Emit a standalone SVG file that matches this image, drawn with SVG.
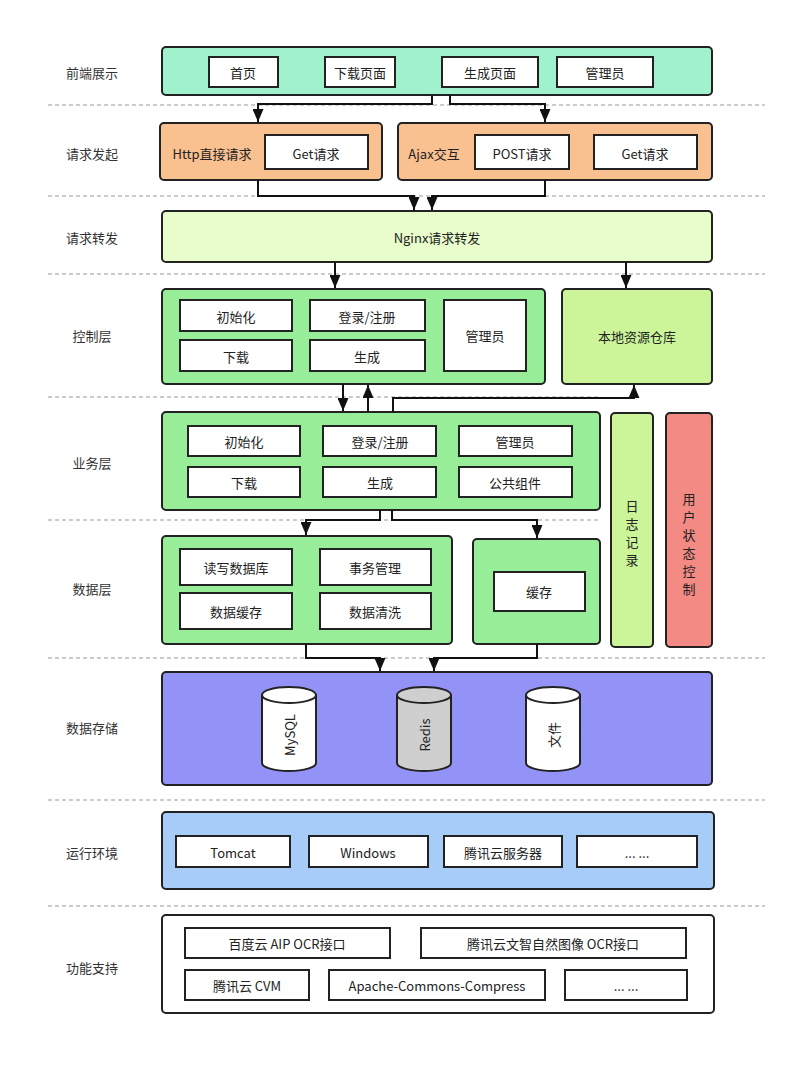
<svg xmlns="http://www.w3.org/2000/svg" width="800" height="1076" viewBox="0 0 800 1076">
<defs>
<marker id="ar" markerWidth="13" markerHeight="11" refX="10" refY="5" orient="auto" markerUnits="userSpaceOnUse" viewBox="0 0 10 10" preserveAspectRatio="none"><path d="M0,0 L10,5 L0,10 Z" fill="#111"/></marker>
<style>
text{font-family:"Noto Sans CJK SC","Liberation Sans",sans-serif;font-size:13px;fill:#222;text-anchor:middle;dominant-baseline:central}
.o{stroke:#222;stroke-width:2}
.b{fill:#fff;stroke:#222;stroke-width:2}
.d{stroke:#999;stroke-width:1.2;stroke-dasharray:4 3}
.c{fill:none;stroke:#111;stroke-width:2}
.lb{font-size:13px;fill:#333}
</style>
</defs>
<rect width="800" height="1076" fill="#fff"/>
<g id="dividers">
<line class="d" x1="48" y1="105" x2="765" y2="105"/><line class="d" x1="48" y1="196" x2="765" y2="196"/>
<line class="d" x1="48" y1="274" x2="765" y2="274"/><line class="d" x1="48" y1="397" x2="600" y2="397"/>
<line class="d" x1="48" y1="520" x2="600" y2="520"/><line class="d" x1="48" y1="658" x2="765" y2="658"/>
<line class="d" x1="48" y1="800" x2="765" y2="800"/><line class="d" x1="48" y1="906" x2="765" y2="906"/>
</g>
<g id="labels">
<text class="lb" x="92" y="72">前端展示</text><text class="lb" x="92" y="153">请求发起</text>
<text class="lb" x="92" y="237">请求转发</text><text class="lb" x="92" y="335">控制层</text>
<text class="lb" x="92" y="462">业务层</text><text class="lb" x="92" y="588">数据层</text>
<text class="lb" x="92" y="727">数据存储</text><text class="lb" x="92" y="852">运行环境</text>
<text class="lb" x="92" y="967">功能支持</text>
</g>
<g id="frontend">
<rect class="o" x="162" y="47" width="550" height="48" rx="4" fill="#a0f2cc"/>
<rect class="b" x="209" y="57" width="69" height="30"/><text x="243" y="72">首页</text>
<rect class="b" x="325" y="57" width="70" height="30"/><text x="360" y="72">下载页面</text>
<rect class="b" x="442" y="57" width="96" height="30"/><text x="490" y="72">生成页面</text>
<rect class="b" x="557" y="57" width="96" height="30"/><text x="605" y="72">管理员</text>
</g>
<g id="http">
<rect class="o" x="160" y="123" width="222" height="57" rx="4" fill="#f9c090"/>
<text x="212" y="153">Http直接请求</text>
<rect class="b" x="265" y="135" width="103" height="34"/><text x="316" y="153">Get请求</text>
</g>
<g id="ajax">
<rect class="o" x="398" y="123" width="314" height="57" rx="4" fill="#f9c090"/>
<text x="434" y="153">Ajax交互</text>
<rect class="b" x="475" y="135" width="94" height="34"/><text x="522" y="153">POST请求</text>
<rect class="b" x="594" y="135" width="103" height="34"/><text x="645" y="153">Get请求</text>
</g>
<g id="nginx">
<rect class="o" x="162" y="211" width="550" height="51" rx="4" fill="#e8fccc"/>
<text x="437" y="237">Nginx请求转发</text>
</g>
<g id="control">
<rect class="o" x="162" y="289" width="383" height="95" rx="4" fill="#98ee98"/>
<rect class="b" x="180" y="300" width="112" height="31"/><text x="236" y="316">初始化</text>
<rect class="b" x="310" y="300" width="115" height="31"/><text x="367" y="316">登录/注册</text>
<rect class="b" x="180" y="340" width="112" height="31"/><text x="236" y="356">下载</text>
<rect class="b" x="310" y="340" width="115" height="31"/><text x="367" y="356">生成</text>
<rect class="b" x="444" y="300" width="82" height="71"/><text x="485" y="335">管理员</text>
</g>
<g id="local">
<rect class="o" x="562" y="289" width="150" height="95" rx="4" fill="#ccf59a"/>
<text x="637" y="336">本地资源仓库</text>
</g>
<g id="business">
<rect class="o" x="162" y="412" width="438" height="98" rx="4" fill="#98ee98"/>
<rect class="b" x="188" y="426" width="112" height="30"/><text x="244" y="441">初始化</text>
<rect class="b" x="323" y="426" width="113" height="30"/><text x="380" y="441">登录/注册</text>
<rect class="b" x="459" y="426" width="113" height="30"/><text x="515" y="441">管理员</text>
<rect class="b" x="188" y="467" width="112" height="30"/><text x="244" y="482">下载</text>
<rect class="b" x="323" y="467" width="113" height="30"/><text x="380" y="482">生成</text>
<rect class="b" x="459" y="467" width="113" height="30"/><text x="515" y="482">公共组件</text>
</g>
<g id="log">
<rect class="o" x="611" y="413" width="42" height="234" rx="4" fill="#ccf59a"/>
<text x="632" y="505">日</text><text x="632" y="523">志</text><text x="632" y="541">记</text><text x="632" y="559">录</text>
</g>
<g id="userstate">
<rect class="o" x="666" y="413" width="46" height="234" rx="4" fill="#f48a84"/>
<text x="689" y="498">用</text><text x="689" y="516">户</text><text x="689" y="534">状</text><text x="689" y="552">态</text><text x="689" y="570">控</text><text x="689" y="588">制</text>
</g>
<g id="data">
<rect class="o" x="162" y="536" width="290" height="108" rx="4" fill="#98ee98"/>
<rect class="b" x="180" y="549" width="112" height="36"/><text x="236" y="567">读写数据库</text>
<rect class="b" x="320" y="549" width="111" height="36"/><text x="375" y="567">事务管理</text>
<rect class="b" x="180" y="593" width="112" height="36"/><text x="236" y="611">数据缓存</text>
<rect class="b" x="320" y="593" width="111" height="36"/><text x="375" y="611">数据清洗</text>
</g>
<g id="cache">
<rect class="o" x="473" y="539" width="127" height="105" rx="4" fill="#98ee98"/>
<rect class="b" x="494" y="572" width="91" height="39"/><text x="539" y="591">缓存</text>
</g>
<g id="storage">
<rect class="o" x="162" y="672" width="550" height="113" rx="4" fill="#9393f7"/>
<g id="mysql"><path class="b" d="M262,695 v68 a27,8 0 0 0 54,0 v-68"/><ellipse class="b" cx="289" cy="695" rx="27" ry="8"/>
<text x="289" y="735" transform="rotate(-90 289 735)">MySQL</text></g>
<g id="redis"><path class="b" style="fill:#cfcfcf" d="M397,695 v68 a27,8 0 0 0 54,0 v-68"/><ellipse class="b" style="fill:#cfcfcf" cx="424" cy="695" rx="27" ry="8"/>
<text x="424" y="735" transform="rotate(-90 424 735)">Redis</text></g>
<g id="file"><path class="b" d="M526,695 v68 a27,8 0 0 0 54,0 v-68"/><ellipse class="b" cx="553" cy="695" rx="27" ry="8"/>
<text x="553" y="735" transform="rotate(-90 553 735)">文件</text></g>
</g>
<g id="runtime">
<rect class="o" x="162" y="812" width="552" height="77" rx="4" fill="#a8ccf8"/>
<rect class="b" x="176" y="836" width="114" height="31"/><text x="233" y="852">Tomcat</text>
<rect class="b" x="309" y="836" width="119" height="31"/><text x="368" y="852">Windows</text>
<rect class="b" x="444" y="836" width="118" height="31"/><text x="503" y="852">腾讯云服务器</text>
<rect class="b" x="577" y="836" width="120" height="31"/><text x="637" y="852">... ...</text>
</g>
<g id="support">
<rect class="o" x="162" y="915" width="552" height="98" rx="4" fill="#fff"/>
<rect class="b" x="185" y="928" width="205" height="30"/><text x="287" y="943">百度云 AIP OCR接口</text>
<rect class="b" x="421" y="928" width="265" height="30"/><text x="553" y="943">腾讯云文智自然图像 OCR接口</text>
<rect class="b" x="185" y="970" width="124" height="30"/><text x="247" y="985">腾讯云 CVM</text>
<rect class="b" x="329" y="970" width="216" height="30"/><text x="437" y="985">Apache-Commons-Compress</text>
<rect class="b" x="565" y="970" width="122" height="30"/><text x="626" y="985">... ...</text>
</g>
<g id="connectors">
<path class="c" d="M432,95 V104 H258 V122" marker-end="url(#ar)"/>
<path class="c" d="M450,95 V104 H545 V122" marker-end="url(#ar)"/>
<path class="c" d="M258,180 V196 H414 V210" marker-end="url(#ar)"/>
<path class="c" d="M545,180 V196 H432 V210" marker-end="url(#ar)"/>
<path class="c" d="M335,262 V288" marker-end="url(#ar)"/>
<path class="c" d="M626,262 V288" marker-end="url(#ar)"/>
<path class="c" d="M343,384 V411" marker-end="url(#ar)"/>
<path class="c" d="M368,412 V385" marker-end="url(#ar)"/>
<path class="c" d="M393,412 V398 H634 V385" marker-end="url(#ar)"/>
<path class="c" d="M380,510 V520 H306 V535" marker-end="url(#ar)"/>
<path class="c" d="M392,510 V520 H537 V538" marker-end="url(#ar)"/>
<path class="c" d="M306,644 V658 H380 V671" marker-end="url(#ar)"/>
<path class="c" d="M537,644 V658 H434 V671" marker-end="url(#ar)"/>
</g>
</svg>
